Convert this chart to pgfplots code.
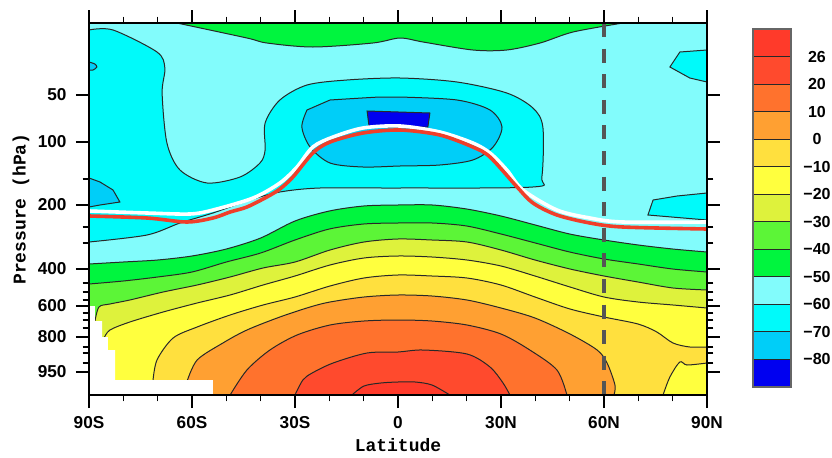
\documentclass[border=0pt]{standalone}
\usepackage{pgfplots}
\pgfplotsset{compat=1.18}
\usepackage{fontspec}
\setmainfont{Liberation Sans}
\newfontfamily\labfont{Liberation Mono}
\definecolor{c13}{RGB}{255,58,42}
\definecolor{c12}{RGB}{255,74,45}
\definecolor{c11}{RGB}{255,114,45}
\definecolor{c10}{RGB}{255,160,50}
\definecolor{c9}{RGB}{255,224,62}
\definecolor{c8}{RGB}{255,255,62}
\definecolor{c7}{RGB}{222,242,60}
\definecolor{c6}{RGB}{92,245,55}
\definecolor{c5}{RGB}{0,245,62}
\definecolor{c4}{RGB}{130,252,252}
\definecolor{c3}{RGB}{0,250,250}
\definecolor{c2}{RGB}{0,206,248}
\definecolor{c1}{RGB}{0,0,240}
\definecolor{linec}{RGB}{40,40,40}
\definecolor{tropred}{RGB}{240,62,42}
\definecolor{dashg}{RGB}{85,85,85}
\tikzset{cl/.style={draw=linec, line width=0.5pt}}
\begin{document}
\begin{tikzpicture}
\useasboundingbox (-44.5pt,-31pt) rectangle (371.5pt,197.5pt);
\begin{axis}[
  at={(0pt,0pt)}, anchor=south west,
  scale only axis, width=309pt, height=186pt,
  xmin=-90, xmax=90, ymin=0, ymax=372,
  axis on top,
  axis line style={line width=0.9pt},
  tick align=outside,
  major tick length=6.5pt, minor tick length=3.2pt,
  every tick/.append style={line width=0.8pt, black},
  every minor tick/.append style={line width=0.6pt},
  xtick={-90,-60,-30,0,30,60,90},
  xticklabels={90S,60S,30S,0,30N,60N,90N},
  minor xtick={-80,-70,-50,-40,-20,-10,10,20,40,50,70,80},
  ytick={23.3,58,89,126,190,253.3,300},
  yticklabels={950,800,600,400,200,100,50},
  minor ytick={32,42,48,67,75,82,95,103,112,152,168,216},
  tick label style={font=\fontsize{8.6}{9.6}\selectfont\bfseries},
  yticklabel style={xshift=-1.2pt},
  xticklabel style={yshift=-0.8pt},
  xlabel={Latitude}, ylabel={Pressure (hPa)},
  label style={font=\labfont\bfseries\fontsize{9}{10}\selectfont},
  x label style={at={(axis description cs:0.5,-0.135)}, anchor=center},
  y label style={at={(axis description cs:-0.110,0.5)}, anchor=center},
]
% background -60..-50
\addplot[fill=c4, draw=none] coordinates {(-90,0) (90,0) (90,372) (-90,372)} --cycle;
% top green region
\addplot[fill=c5, cl, smooth] coordinates {(-64.4,372) (-44.0,357) (-38.2,352) (-24.8,348) (-7.3,352) (0.6,357) (7.3,353) (21.8,345) (31.7,345) (41.4,352) (51.0,363) (65.5,372)} --cycle;
% cyan region -70..-60
\addplot[fill=c3, cl, smooth] coordinates {(-90,365) (-83.0,365) (-70.2,343) (-67.9,327) (-68.7,302) (-67.3,252) (-63.5,225) (-55.6,212) (-46.0,218) (-40.2,232) (-38.7,245) (-38.7,272) (-34.4,295) (-26.5,310) (-14.9,315) (0.6,317) (17.2,313) (31.7,302) (39.3,287) (42.2,268) (41.9,218) (39.3,208) (0.6,207) (-22.7,207) (-34.4,203) (-43.1,195) (-53.9,182) (-63.5,172) (-73.1,160) (-90,153)} --cycle;
% light blue core -80..-70
\addplot[fill=c2, cl, smooth] coordinates {(-26.5,285) (-28.0,268) (-25.6,248) (-19.8,232) (-10.2,228) (0.6,229) (12.2,230) (21.8,235) (27.7,248) (30.3,268) (26.8,285) (17.2,295) (0.6,298) (-5.2,298) (-19.8,295)} --cycle;
% dark blue < -80
\addplot[fill=c1, cl] coordinates {(-9.0,284) (9.3,282) (8.7,268) (-8.4,268)} --cycle;
% small blobs
\addplot[fill=c2, cl] coordinates {(-90,217) (-86.8,213) (-83.0,205) (-81.0,193) (-86.8,190) (-90,188)} --cycle;
\addplot[fill=c2, cl, smooth] coordinates {(-90,333) (-88.3,331) (-87.7,328) (-88.8,325) (-90,325)} --cycle;
\addplot[fill=c3, cl] coordinates {(90,345) (82.1,343) (79.2,328) (85.0,317) (90,313)} --cycle;
\addplot[fill=c3, cl] coordinates {(90,202) (81.3,199) (74.3,195) (72.8,180) (90,175)} --cycle;
% lower bands
\addplot[fill=c5, cl, smooth] coordinates {(-90,131) (-80,133) (-70,135) (-60,139) (-50,146) (-40,157) (-30,174) (-20,184) (-10,189) (0,190) (10,190) (20,186) (30,179) (40,170) (50,161) (60,155) (70,150) (80,146) (90,143)} \closedcycle;
\addplot[fill=c6, cl, smooth] coordinates {(-90,111) (-80,114) (-70,118) (-60,123) (-50,133) (-40,142) (-30,155) (-20,166) (-10,171) (0,172) (10,172) (20,169) (30,161) (40,152) (50,143) (60,136) (70,131) (80,126) (90,123)} \closedcycle;
\addplot[fill=c7, cl, smooth] coordinates {(-88.3,73) (-87.1,88) (-83.9,91) (-78.1,95) (-68.4,103) (-58.5,110) (-48.9,118) (-39.3,127) (-30.0,133) (-19.8,145) (-9.9,153) (0,156) (9.9,155) (20.1,153) (30,145) (39.9,135) (50.1,126) (60,119) (69.9,113) (80.1,107) (90,105)} \closedcycle;
\addplot[fill=c8, cl, smooth] coordinates {(-85.6,57) (-83.9,65) (-78.1,73) (-68.4,83) (-58.5,92) (-48.9,100) (-39.3,110) (-30,119) (-19.8,130) (-9.9,137) (0,139) (9.9,138) (20.1,135) (30,129) (39.9,119) (50.1,108) (60,98) (69.9,93) (80.1,90) (90,87)} \closedcycle;
\addplot[fill=c9, cl, smooth] coordinates {(-71.4,13) (-70.2,35) (-65.5,57) (-58.5,68) (-48.9,80) (-39.3,90) (-30,98) (-19.8,109) (-9.9,117) (0,120) (9.9,119) (20.1,117) (30,110) (39.9,98) (50.1,86) (60,78) (69.9,71) (75.4,63) (80.1,52) (85,48) (90,48)} \closedcycle;
\addplot[fill=c8, cl, smooth] coordinates {(77.2,0) (79.2,18) (82.1,33) (84.2,30) (90,32)} \closedcycle;
\addplot[fill=c10, cl, smooth] coordinates {(-61.5,13) (-58.5,35) (-51.0,52) (-44.0,65) (-34.4,78) (-25.6,88) (-19.8,93) (-9.9,98) (0,100) (9.9,99) (20.1,95) (30,87) (39.9,77) (50.1,61) (58.0,45) (60.9,32) (63.2,10) (62.9,0)} \closedcycle;
\addplot[fill=c11, cl, smooth] coordinates {(-48.9,0) (-44.0,25) (-37.3,45) (-29.4,60) (-19.8,70) (-9.9,74) (0,75) (9.9,74) (20.1,70) (30,61) (38.4,45) (46.3,25) (49.2,0)} \closedcycle;
\addplot[fill=c12, cl, smooth] coordinates {(-30.0,0) (-27.7,15) (-25.0,22) (-18.9,32) (-9.0,42) (0,43) (7.3,45) (20.1,41) (26.8,28) (30.6,12) (32.6,0)} \closedcycle;
\addplot[fill=c13, cl, smooth] coordinates {(-13.4,0) (-9.9,9) (-5.0,12) (0,13) (5.0,13) (9.9,10) (15.1,0)} \closedcycle;
% missing data
\addplot[fill=white, draw=none] coordinates {(-90,0) (-90,89) (-88.3,89) (-88.3,74) (-86.2,74) (-86.2,58) (-84.5,58) (-84.5,45) (-82.4,45) (-82.4,15) (-53.9,15) (-53.9,0)} --cycle;
% tropopause lines
\addplot[white, line width=1.8pt, smooth] coordinates {(-90,184) (-73.1,182) (-60.6,181) (-53.9,185) (-42.2,197) (-34.4,212) (-29.4,228) (-24.8,248) (-18.9,258) (-10.2,267) (0.6,269) (12.2,263) (21.8,252) (26.8,242) (31.7,225) (36.4,205) (46.3,185) (55.9,177) (65.5,173) (90,173)};
\addplot[tropred, line width=1.8pt, smooth] coordinates {(-90,179) (-73.1,177) (-61.5,173) (-53.9,177) (-48.9,183) (-44.0,188) (-38.2,198) (-34.4,206) (-30.6,218) (-24.8,242) (-19.8,253) (-10.2,262) (0.6,265) (12.2,260) (21.8,248) (26.8,238) (34.7,208) (39.3,192) (46.3,180) (55.9,172) (65.5,168) (90,166)};
% 60N dashed line
\addplot[dashg, line width=2pt, dash pattern=on 7pt off 5.8pt] coordinates {(60,372) (60,0)};
\end{axis}
\begin{axis}[
  at={(332pt,4pt)}, anchor=south west,
  scale only axis, width=19pt, height=179pt,
  xmin=0, xmax=1, ymin=0, ymax=13,
  axis on top,
  axis line style={line width=0.6pt, black!60},
  xtick=\empty,
  ytick={1,2,3,4,5,6,7,8,9,10,11,12},
  yticklabels={−80,−70,−60,−50,−40,−30,−20,−10,0,10,20,26},
  yticklabel pos=right,
  major tick length=0pt,
  tick label style={font=\fontsize{8}{9}\selectfont\bfseries},
  yticklabel style={anchor=center, xshift=13pt},
]
\addplot[fill=c1, cl] coordinates {(0,0) (1,0) (1,1) (0,1)} --cycle;
\addplot[fill=c2, cl] coordinates {(0,1) (1,1) (1,2) (0,2)} --cycle;
\addplot[fill=c3, cl] coordinates {(0,2) (1,2) (1,3) (0,3)} --cycle;
\addplot[fill=c4, cl] coordinates {(0,3) (1,3) (1,4) (0,4)} --cycle;
\addplot[fill=c5, cl] coordinates {(0,4) (1,4) (1,5) (0,5)} --cycle;
\addplot[fill=c6, cl] coordinates {(0,5) (1,5) (1,6) (0,6)} --cycle;
\addplot[fill=c7, cl] coordinates {(0,6) (1,6) (1,7) (0,7)} --cycle;
\addplot[fill=c8, cl] coordinates {(0,7) (1,7) (1,8) (0,8)} --cycle;
\addplot[fill=c9, cl] coordinates {(0,8) (1,8) (1,9) (0,9)} --cycle;
\addplot[fill=c10, cl] coordinates {(0,9) (1,9) (1,10) (0,10)} --cycle;
\addplot[fill=c11, cl] coordinates {(0,10) (1,10) (1,11) (0,11)} --cycle;
\addplot[fill=c12, cl] coordinates {(0,11) (1,11) (1,12) (0,12)} --cycle;
\addplot[fill=c13, cl] coordinates {(0,12) (1,12) (1,13) (0,13)} --cycle;
\end{axis}
\end{tikzpicture}
\end{document}
